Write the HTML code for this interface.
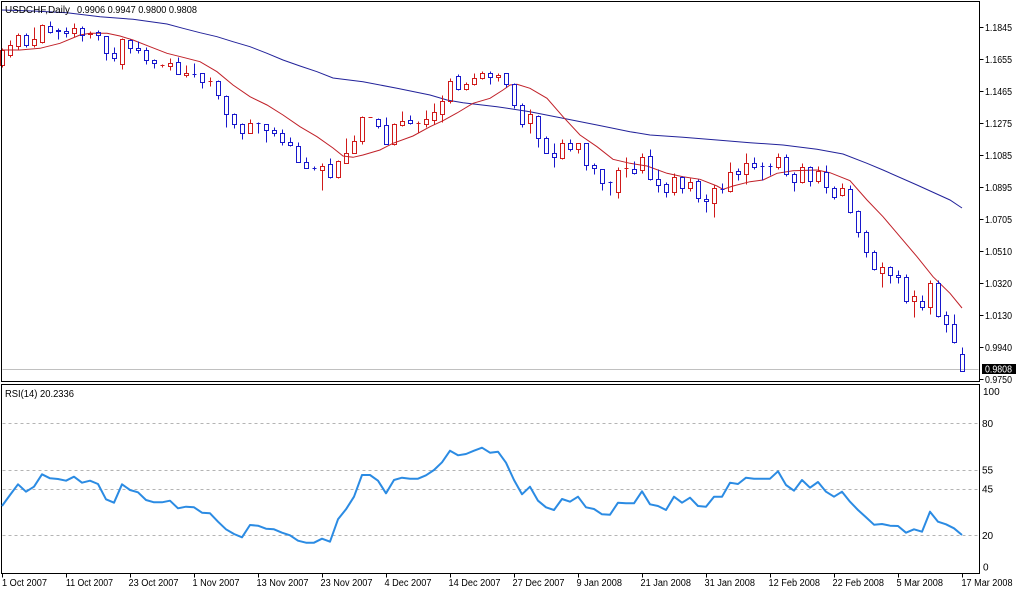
<!DOCTYPE html>
<html><head><meta charset="utf-8"><style>
html,body{margin:0;padding:0;background:#fff;}
svg{display:block;}
text{font-family:"Liberation Sans",sans-serif;font-size:10px;fill:#000;}
</style></head><body>
<svg width="1020" height="590" viewBox="0 0 1020 590" xmlns="http://www.w3.org/2000/svg">
<rect x="0" y="0" width="1020" height="590" fill="#fff"/>
<g transform="translate(0.5,0.5)" shape-rendering="crispEdges" fill="none">
<!-- current price line -->
<path d="M2 369H978" stroke="#c0c0c0"/>
<!-- RSI levels -->
<path d="M2 423H978M2 470H978M2 489H978M2 535H978" stroke="#b4b4b4" stroke-dasharray="3 3"/>
</g>
<!-- MAs -->
<polyline fill="none" stroke="#22229a" stroke-width="1" points="2,10 33,11 67,12.7 100,16.7 133,19.3 167,24 183,28.3 200,32.7 217,36.7 233,41.7 250,46.7 267,53.3 283,60 300,66 317,71.7 333,78 363,81.7 397,88.3 430,95 447,100 463,102.7 497,106.7 530,111.7 563,118.3 597,125 630,131.7 650,135 683,137.3 717,140 750,142.7 783,145 817,149.3 843,154 867,163.3 883,170 917,185 950,200 962,208"/>
<polyline fill="none" stroke="#c02028" stroke-width="1" points="2,50 20,50 40,48.3 60,43.3 80,35 90,33.3 107,33.3 120,36 133,40 150,46.7 167,53.3 183,57.3 200,61.7 217,71.7 233,85 250,96.7 267,105 283,115 300,126.7 317,136.7 333,148 343,156 353,157.3 363,155 380,150 393,143.3 413,136 430,126.7 443,120.7 457,113 473,103.3 490,98.3 503,90 510,85 517,84.3 530,88.3 547,98.3 563,116.7 580,135 597,146.7 613,159.3 630,163.3 647,166 667,173.3 683,176.7 700,179.3 717,186 723,189.3 733,186 750,181.7 763,180 777,173.3 793,170.7 817,170 830,172.7 850,180.7 867,200 883,216.7 900,236.7 917,256.7 933,276.7 950,293.3 962,308"/>
<g transform="translate(0.5,0.5)" shape-rendering="crispEdges" fill="none">
<!-- red candles -->
<path stroke="#d01a1a" d="M2 48V50M2 65V67M0 50h4v15h-4z
M10 40V45M10 55V57M8 45h4v10h-4z
M18 33V35M18 46V50M16 35h4v11h-4z
M34 27V39M34 45V47M32 39h4v6h-4z
M42 24V25M42 42V43M40 25h4v17h-4z
M74 23V28M74 33V37M72 28h4v5h-4z
M90 31V33M90 34V38M88 33h4v1h-4z
M122 38V39M122 64V69M120 39h4v25h-4z
M162 64V67M160 65h4
M170 58V63M170 66V70M168 63h4v3h-4z
M186 65V73M186 75V77M184 73h4v2h-4z
M210 77V86M208 81h4
M250 119V123M248 123h4v10h-4z
M322 163V166M322 170V190M320 166h4v4h-4z
M338 160V161M338 177V178M336 161h4v16h-4z
M346 138V153M344 153h4v10h-4z
M354 135V141M352 141h4v12h-4z
M362 116V117M362 141V144M360 117h4v24h-4z
M368 117h4
M394 123V124M394 144V145M392 124h4v20h-4z
M402 111V121M402 125V126M400 121h4v4h-4z
M418 121V132M416 123h4
M426 110V119M426 124V127M424 119h4v5h-4z
M434 103V112M434 120V124M432 112h4v8h-4z
M442 95V101M442 114V122M440 101h4v13h-4z
M450 78V81M450 101V103M448 81h4v20h-4z
M466 82V84M466 89V90M464 84h4v5h-4z
M474 73V78M474 84V85M472 78h4v6h-4z
M482 71V73M482 78V79M480 73h4v5h-4z
M498 73V75M498 77V81M496 75h4v2h-4z
M530 109V114M530 123V133M528 114h4v9h-4z
M562 139V143M562 158V159M560 143h4v15h-4z
M578 149V153M576 143h4v6h-4z
M618 167V170M618 192V198M616 170h4v22h-4z
M626 157V177M624 168h4
M642 153V157M642 170V173M640 157h4v13h-4z
M674 173V177M674 192V195M672 177h4v15h-4z
M690 178V182M690 188V191M688 182h4v6h-4z
M714 185V188M714 203V217M712 188h4v15h-4z
M730 162V172M730 191V192M728 172h4v19h-4z
M746 153V163M746 174V184M744 163h4v11h-4z
M778 153V157M778 167V169M776 157h4v10h-4z
M802 163V167M802 182V183M800 167h4v15h-4z
M818 166V171M818 181V183M816 171h4v10h-4z
M842 183V188M842 195V196M840 188h4v7h-4z
M882 262V267M882 273V287M880 267h4v6h-4z
M914 290V296M914 301V317M912 296h4v5h-4z
M930 280V283M930 307V314M928 283h4v24h-4z"/>
<!-- blue candles -->
<path stroke="#1818cc" d="M26 33V35M26 45V47M24 35h4v10h-4z
M50 21V26M50 32V33M48 26h4v6h-4z
M58 28V30M58 31V39M56 30h4v1h-4z
M66 27V31M66 33V37M64 31h4v2h-4z
M82 26V28M82 35V41M80 28h4v7h-4z
M98 30V32M98 35V40M96 32h4v3h-4z
M106 53V60M104 36h4v17h-4z
M114 47V53M114 58V61M112 53h4v5h-4z
M130 39V40M130 48V53M128 40h4v8h-4z
M138 41V48M138 50V53M136 48h4v2h-4z
M146 47V50M146 60V64M144 50h4v10h-4z
M154 59V60M154 63V68M152 60h4v3h-4z
M178 57V62M176 62h4v12h-4z
M194 63V77M192 74h4
M202 82V88M200 73h4v9h-4z
M218 80V81M218 95V99M216 81h4v14h-4z
M226 95V96M226 114V127M224 96h4v18h-4z
M234 113V114M234 124V128M232 114h4v10h-4z
M242 123V124M242 133V139M240 124h4v9h-4z
M258 122V133M256 123h4
M266 130V142M264 124h4v6h-4z
M274 127V130M274 133V136M272 130h4v3h-4z
M282 129V133M282 142V145M280 133h4v9h-4z
M290 137V142M290 145V146M288 142h4v3h-4z
M298 142V146M296 146h4v16h-4z
M306 157V162M304 162h4v6h-4z
M314 166V170M312 168h4
M330 158V164M330 177V178M328 164h4v13h-4z
M378 118V119M378 126V128M376 119h4v7h-4z
M386 117V125M384 125h4v19h-4z
M410 115V120M410 123V124M408 120h4v3h-4z
M458 74V76M458 89V90M456 76h4v13h-4z
M490 71V73M490 77V84M488 73h4v4h-4z
M506 84V87M504 73h4v11h-4z
M514 83V84M514 105V108M512 84h4v21h-4z
M522 103V105M522 124V127M520 105h4v19h-4z
M538 115V116M538 138V147M536 116h4v22h-4z
M546 136V138M544 138h4v15h-4z
M554 143V153M554 157V167M552 153h4v4h-4z
M570 139V143M570 149V151M568 143h4v6h-4z
M586 165V170M584 143h4v22h-4z
M594 163V165M594 168V174M592 165h4v3h-4z
M602 183V190M600 169h4v14h-4z
M610 181V195M608 182h4
M634 161V169M634 173V174M632 169h4v4h-4z
M650 149V156M650 179V180M648 156h4v23h-4z
M658 169V179M658 185V192M656 179h4v6h-4z
M666 182V184M666 192V197M664 184h4v8h-4z
M682 176V177M682 188V193M680 177h4v11h-4z
M698 179V181M698 198V202M696 181h4v17h-4z
M706 194V199M706 201V212M704 199h4v2h-4z
M722 183V193M720 189h4
M738 168V171M738 174V180M736 171h4v3h-4z
M754 157V163M754 167V169M752 163h4v4h-4z
M762 162V180M760 166h4
M770 163V175M768 166h4
M786 154V157M786 174V176M784 157h4v17h-4z
M794 172V174M794 182V191M792 174h4v8h-4z
M810 166V167M810 181V186M808 167h4v14h-4z
M826 165V172M826 187V193M824 172h4v15h-4z
M834 186V188M834 197V199M832 188h4v9h-4z
M850 185V189M850 212V213M848 189h4v23h-4z
M858 210V211M858 232V237M856 211h4v21h-4z
M866 230V232M866 252V257M864 232h4v20h-4z
M874 250V252M874 269V270M872 252h4v17h-4z
M890 266V267M890 275V283M888 267h4v8h-4z
M898 270V275M898 277V283M896 275h4v2h-4z
M906 274V277M906 301V303M904 277h4v24h-4z
M922 295V301M922 307V310M920 301h4v6h-4z
M938 280V283M938 316V317M936 283h4v33h-4z
M946 311V315M946 324V332M944 315h4v9h-4z
M954 314V324M954 342V343M952 324h4v18h-4z
M962 347V354M960 354h4v17h-4z"/>
<!-- panel borders -->
<rect x="1" y="1" width="978" height="380" stroke="#000"/>
<rect x="1" y="384" width="978" height="189" stroke="#000"/>
<!-- price ticks -->
<path stroke="#000" d="M979 27H983M979 59H983M979 91H983M979 123H983M979 155H983M979 187H983M979 219H983M979 251H983M979 283H983M979 315H983M979 347H983M979 379H983"/>
<!-- date ticks -->
<path stroke="#000" d="M2 573V577M66 573V577M130 573V577M194 573V577M258 573V577M322 573V577M386 573V577M450 573V577M514 573V577M578 573V577M642 573V577M706 573V577M770 573V577M834 573V577M898 573V577M962 573V577"/>
</g>
<!-- RSI line -->
<polyline fill="none" stroke="#2b8be3" stroke-width="2" stroke-linejoin="round" points="2,506 10,495 18,484.3 26,491.7 34,486.7 42,474.3 50,478.3 58,479 66,480.7 74,476.7 82,482.7 90,480.7 98,484 106,499.3 114,502.7 122,484.3 130,490 138,492.3 146,500 154,502.3 162,502.3 170,500.7 178,508.3 186,506.7 194,507.3 202,512.7 210,513.3 218,521.7 226,529.3 234,534 242,537.3 250,525 258,525.7 266,528.7 274,529.3 282,532.7 290,535.3 298,540.7 306,542.7 314,542.7 322,538.7 330,541.7 338,519.3 346,509.3 354,496.7 362,475 370,475 378,480.7 386,493.3 394,480 402,477.7 410,478.7 418,478.7 426,475.3 434,470 442,462.3 450,450.7 458,455.3 466,454 474,450.7 482,447.7 490,452.7 498,451.7 506,462.7 514,480 522,494.3 530,486.7 538,500.7 546,507.3 554,510 562,499 570,501.7 578,496.7 586,507.3 594,509 602,514.3 610,514.7 618,502.7 626,503.3 634,503.3 642,491.3 650,504.3 658,506 666,510 674,496.7 682,502.7 690,497.7 698,506 706,506.7 714,496.7 722,496.7 730,482.7 738,484 746,477.7 754,478.7 762,478.7 770,478.7 778,471.3 786,485 794,490.7 802,480 810,487.7 818,482 826,491.7 834,496.7 842,491.7 850,501.7 858,510 866,517.3 874,524.7 882,524 890,525.7 898,526 906,532.7 914,529.3 922,531.7 930,511.7 938,521.7 946,524.3 954,528.3 962,535"/>
<!-- header -->
<text x="5" y="13" textLength="65" lengthAdjust="spacingAndGlyphs">USDCHF,Daily</text>
<text x="77" y="13" textLength="120" lengthAdjust="spacingAndGlyphs">0.9906 0.9947 0.9800 0.9808</text>
<text x="5" y="397" textLength="69" lengthAdjust="spacingAndGlyphs">RSI(14) 20.2336</text>
<!-- price labels -->
<g>
<text x="985" y="31" textLength="27" lengthAdjust="spacingAndGlyphs">1.1845</text>
<text x="985" y="63" textLength="27" lengthAdjust="spacingAndGlyphs">1.1655</text>
<text x="985" y="95" textLength="27" lengthAdjust="spacingAndGlyphs">1.1465</text>
<text x="985" y="127" textLength="27" lengthAdjust="spacingAndGlyphs">1.1275</text>
<text x="985" y="159" textLength="27" lengthAdjust="spacingAndGlyphs">1.1085</text>
<text x="985" y="191" textLength="27" lengthAdjust="spacingAndGlyphs">1.0895</text>
<text x="985" y="223" textLength="27" lengthAdjust="spacingAndGlyphs">1.0705</text>
<text x="985" y="255" textLength="27" lengthAdjust="spacingAndGlyphs">1.0510</text>
<text x="985" y="287" textLength="27" lengthAdjust="spacingAndGlyphs">1.0320</text>
<text x="985" y="319" textLength="27" lengthAdjust="spacingAndGlyphs">1.0130</text>
<text x="985" y="351" textLength="27" lengthAdjust="spacingAndGlyphs">0.9940</text>
<text x="985" y="383" textLength="27" lengthAdjust="spacingAndGlyphs">0.9750</text>
</g>
<rect x="982" y="364" width="34" height="10" fill="#000"/>
<text x="985" y="372.5" textLength="27" lengthAdjust="spacingAndGlyphs" style="fill:#fff">0.9808</text>
<!-- RSI labels -->
<text x="983" y="395">100</text>
<text x="982" y="427">80</text>
<text x="982" y="473.5">55</text>
<text x="982" y="492.5">45</text>
<text x="982" y="539">20</text>
<text x="983" y="570.5">0</text>
<!-- date labels -->
<g>
<text x="2" y="586" textLength="45" lengthAdjust="spacingAndGlyphs">1 Oct 2007</text>
<text x="66" y="586" textLength="47" lengthAdjust="spacingAndGlyphs">11 Oct 2007</text>
<text x="128.5" y="586" textLength="50" lengthAdjust="spacingAndGlyphs">23 Oct 2007</text>
<text x="192.5" y="586" textLength="47" lengthAdjust="spacingAndGlyphs">1 Nov 2007</text>
<text x="256.5" y="586" textLength="52" lengthAdjust="spacingAndGlyphs">13 Nov 2007</text>
<text x="320.5" y="586" textLength="52" lengthAdjust="spacingAndGlyphs">23 Nov 2007</text>
<text x="384.5" y="586" textLength="47" lengthAdjust="spacingAndGlyphs">4 Dec 2007</text>
<text x="448.5" y="586" textLength="52" lengthAdjust="spacingAndGlyphs">14 Dec 2007</text>
<text x="512.5" y="586" textLength="52" lengthAdjust="spacingAndGlyphs">27 Dec 2007</text>
<text x="576.5" y="586" textLength="45.5" lengthAdjust="spacingAndGlyphs">9 Jan 2008</text>
<text x="640.5" y="586" textLength="50.5" lengthAdjust="spacingAndGlyphs">21 Jan 2008</text>
<text x="704.5" y="586" textLength="50.5" lengthAdjust="spacingAndGlyphs">31 Jan 2008</text>
<text x="768.5" y="586" textLength="51.5" lengthAdjust="spacingAndGlyphs">12 Feb 2008</text>
<text x="832.5" y="586" textLength="51.5" lengthAdjust="spacingAndGlyphs">22 Feb 2008</text>
<text x="896.5" y="586" textLength="46.5" lengthAdjust="spacingAndGlyphs">5 Mar 2008</text>
<text x="961.5" y="586" textLength="51" lengthAdjust="spacingAndGlyphs">17 Mar 2008</text>
</g>
</svg>
</body></html>
